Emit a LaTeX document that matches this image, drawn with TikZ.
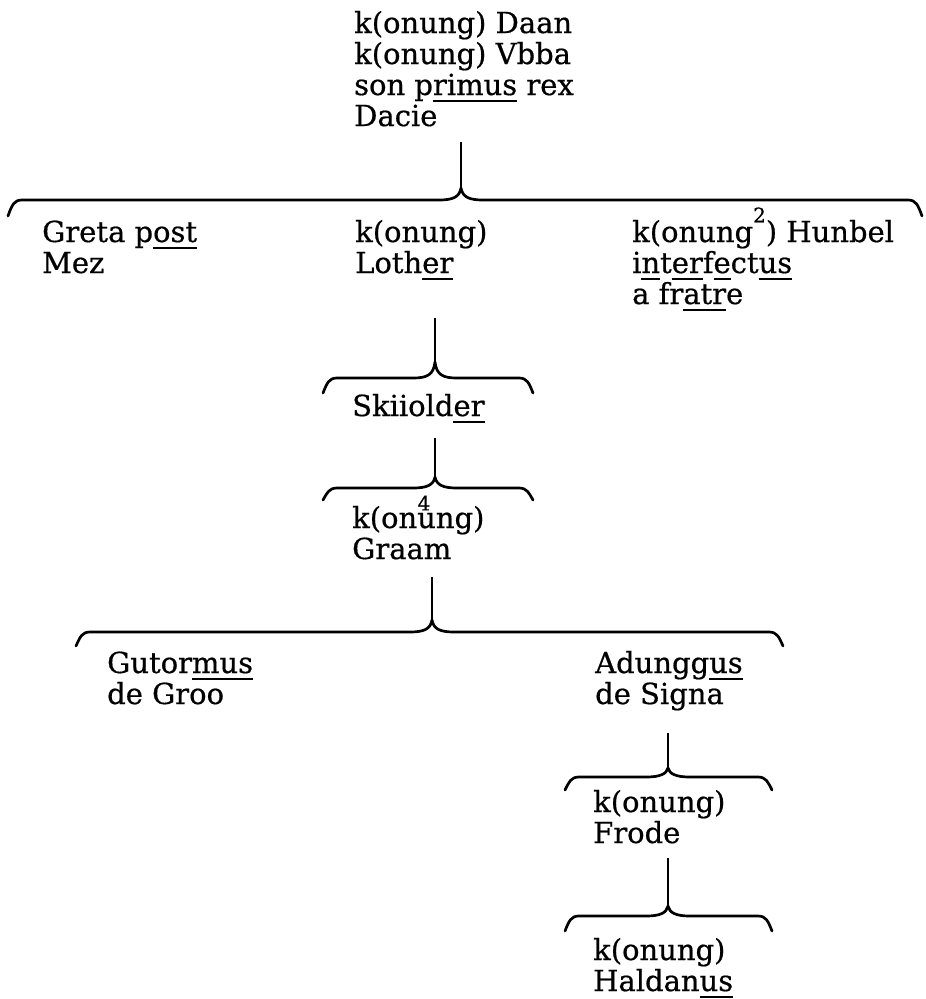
\documentclass[tikz,border=0pt]{standalone}
\usepackage{fontspec}
\setmainfont{DejaVu Serif}
\newfontfamily\twfont{DejaVu Serif}[FakeBold=0.6]
\newsavebox\ulbox
\newcommand\ul[1]{\sbox\ulbox{#1}\rlap{\rule[-0.25em]{\wd\ulbox}{0.08em}}\usebox\ulbox}
\newcommand\supnum[1]{\raisebox{0.68em}{\fontsize{20}{20}\selectfont #1}}
\newcommand\txtfont{\twfont\fontsize{29}{31}\selectfont\lineskiplimit=-100pt\relax}
% \drawbrace{left x}{right x}{cusp x}{cusp y}{horizontal y}{tip y}
\newcommand\drawbrace[6]{%
  \draw[brace] (#1,#6) .. controls (#1+4,#5+5) and (#1+6,#5) .. (#1+14,#5)
    -- (#3-22,#5) .. controls (#3-8,#5) and (#3-1.5,#5-3) .. (#3,#4)
    .. controls (#3+1.5,#5-3) and (#3+8,#5) .. (#3+22,#5)
    -- (#2-14,#5) .. controls (#2-6,#5) and (#2-4,#5+5) .. (#2,#6);}
% anchor: baseline of the LAST line of each text block
\tikzset{
  txt/.style={anchor=base west, inner sep=0pt, align=left, font=\txtfont},
  supnode/.style={inner sep=0pt, font=\twfont\fontsize{20}{20}\selectfont},
  stem/.style={line width=2.2pt},
  brace/.style={line width=2.7pt, line join=round, line cap=round},
}
\begin{document}
\begin{tikzpicture}[x=1pt,y=-1pt]
\useasboundingbox (0,0) rectangle (926,999);
% level 0
\node[txt] (daan) at (354,126) {k(onung) Daan\\k(onung) Vbba\\son p\ul{rimus} rex\\Dacie};
\coordinate (s1) at (461,142);
\coordinate (c1) at (461,188);
\draw[stem] (s1) -- (c1);
\drawbrace{8}{922}{461}{188}{200}{216}
% level 1
\node[txt] (greta) at (42,273) {Greta p\ul{ost}\\Mez};
\node[txt] (lother) at (355,273) {k(onung)\\Loth\ul{er}};
\node[txt] (hunbel) at (632,304) {k(onung\supnum{2}) Hunbel\\i\ul{n}t\ul{er}f\ul{e}ct\ul{us}\\a fr\ul{atr}e};
\coordinate (s2) at (435,318);
\coordinate (c2) at (435,362);
\draw[stem] (s2) -- (c2);
\drawbrace{323}{533}{435}{362}{378}{393}
% level 2
\node[txt] (skiold) at (352,416) {Skiiold\ul{er}};
\coordinate (s3) at (435,438);
\coordinate (c3) at (435,477);
\draw[stem] (s3) -- (c3);
\drawbrace{323}{533}{435}{477}{488}{500}
% level 3
\node[supnode] (four) at (424,503) {4};
\node[txt] (graam) at (352,559) {k(onung)\\Graam};
\coordinate (s4) at (432,577);
\coordinate (c4) at (432,620);
\draw[stem] (s4) -- (c4);
\drawbrace{76}{783}{432}{620}{632}{646}
% level 4
\node[txt] (gutorm) at (107,704) {Gutor\ul{mus}\\de Groo};
\node[txt] (adung) at (595,704) {Adungg\ul{us}\\de Signa};
\coordinate (s5) at (668,733);
\coordinate (c5) at (668,768);
\draw[stem] (s5) -- (c5);
\drawbrace{565}{772}{668}{768}{777}{790}
% level 5
\node[txt] (frode) at (593,843) {k(onung)\\Frode};
\coordinate (s6) at (668,858);
\coordinate (c6) at (668,906);
\draw[stem] (s6) -- (c6);
\drawbrace{565}{772}{668}{906}{916}{931}
% level 6
\node[txt] (haldan) at (593,991) {k(onung)\\Haldan\ul{us}};
\end{tikzpicture}
\end{document}
